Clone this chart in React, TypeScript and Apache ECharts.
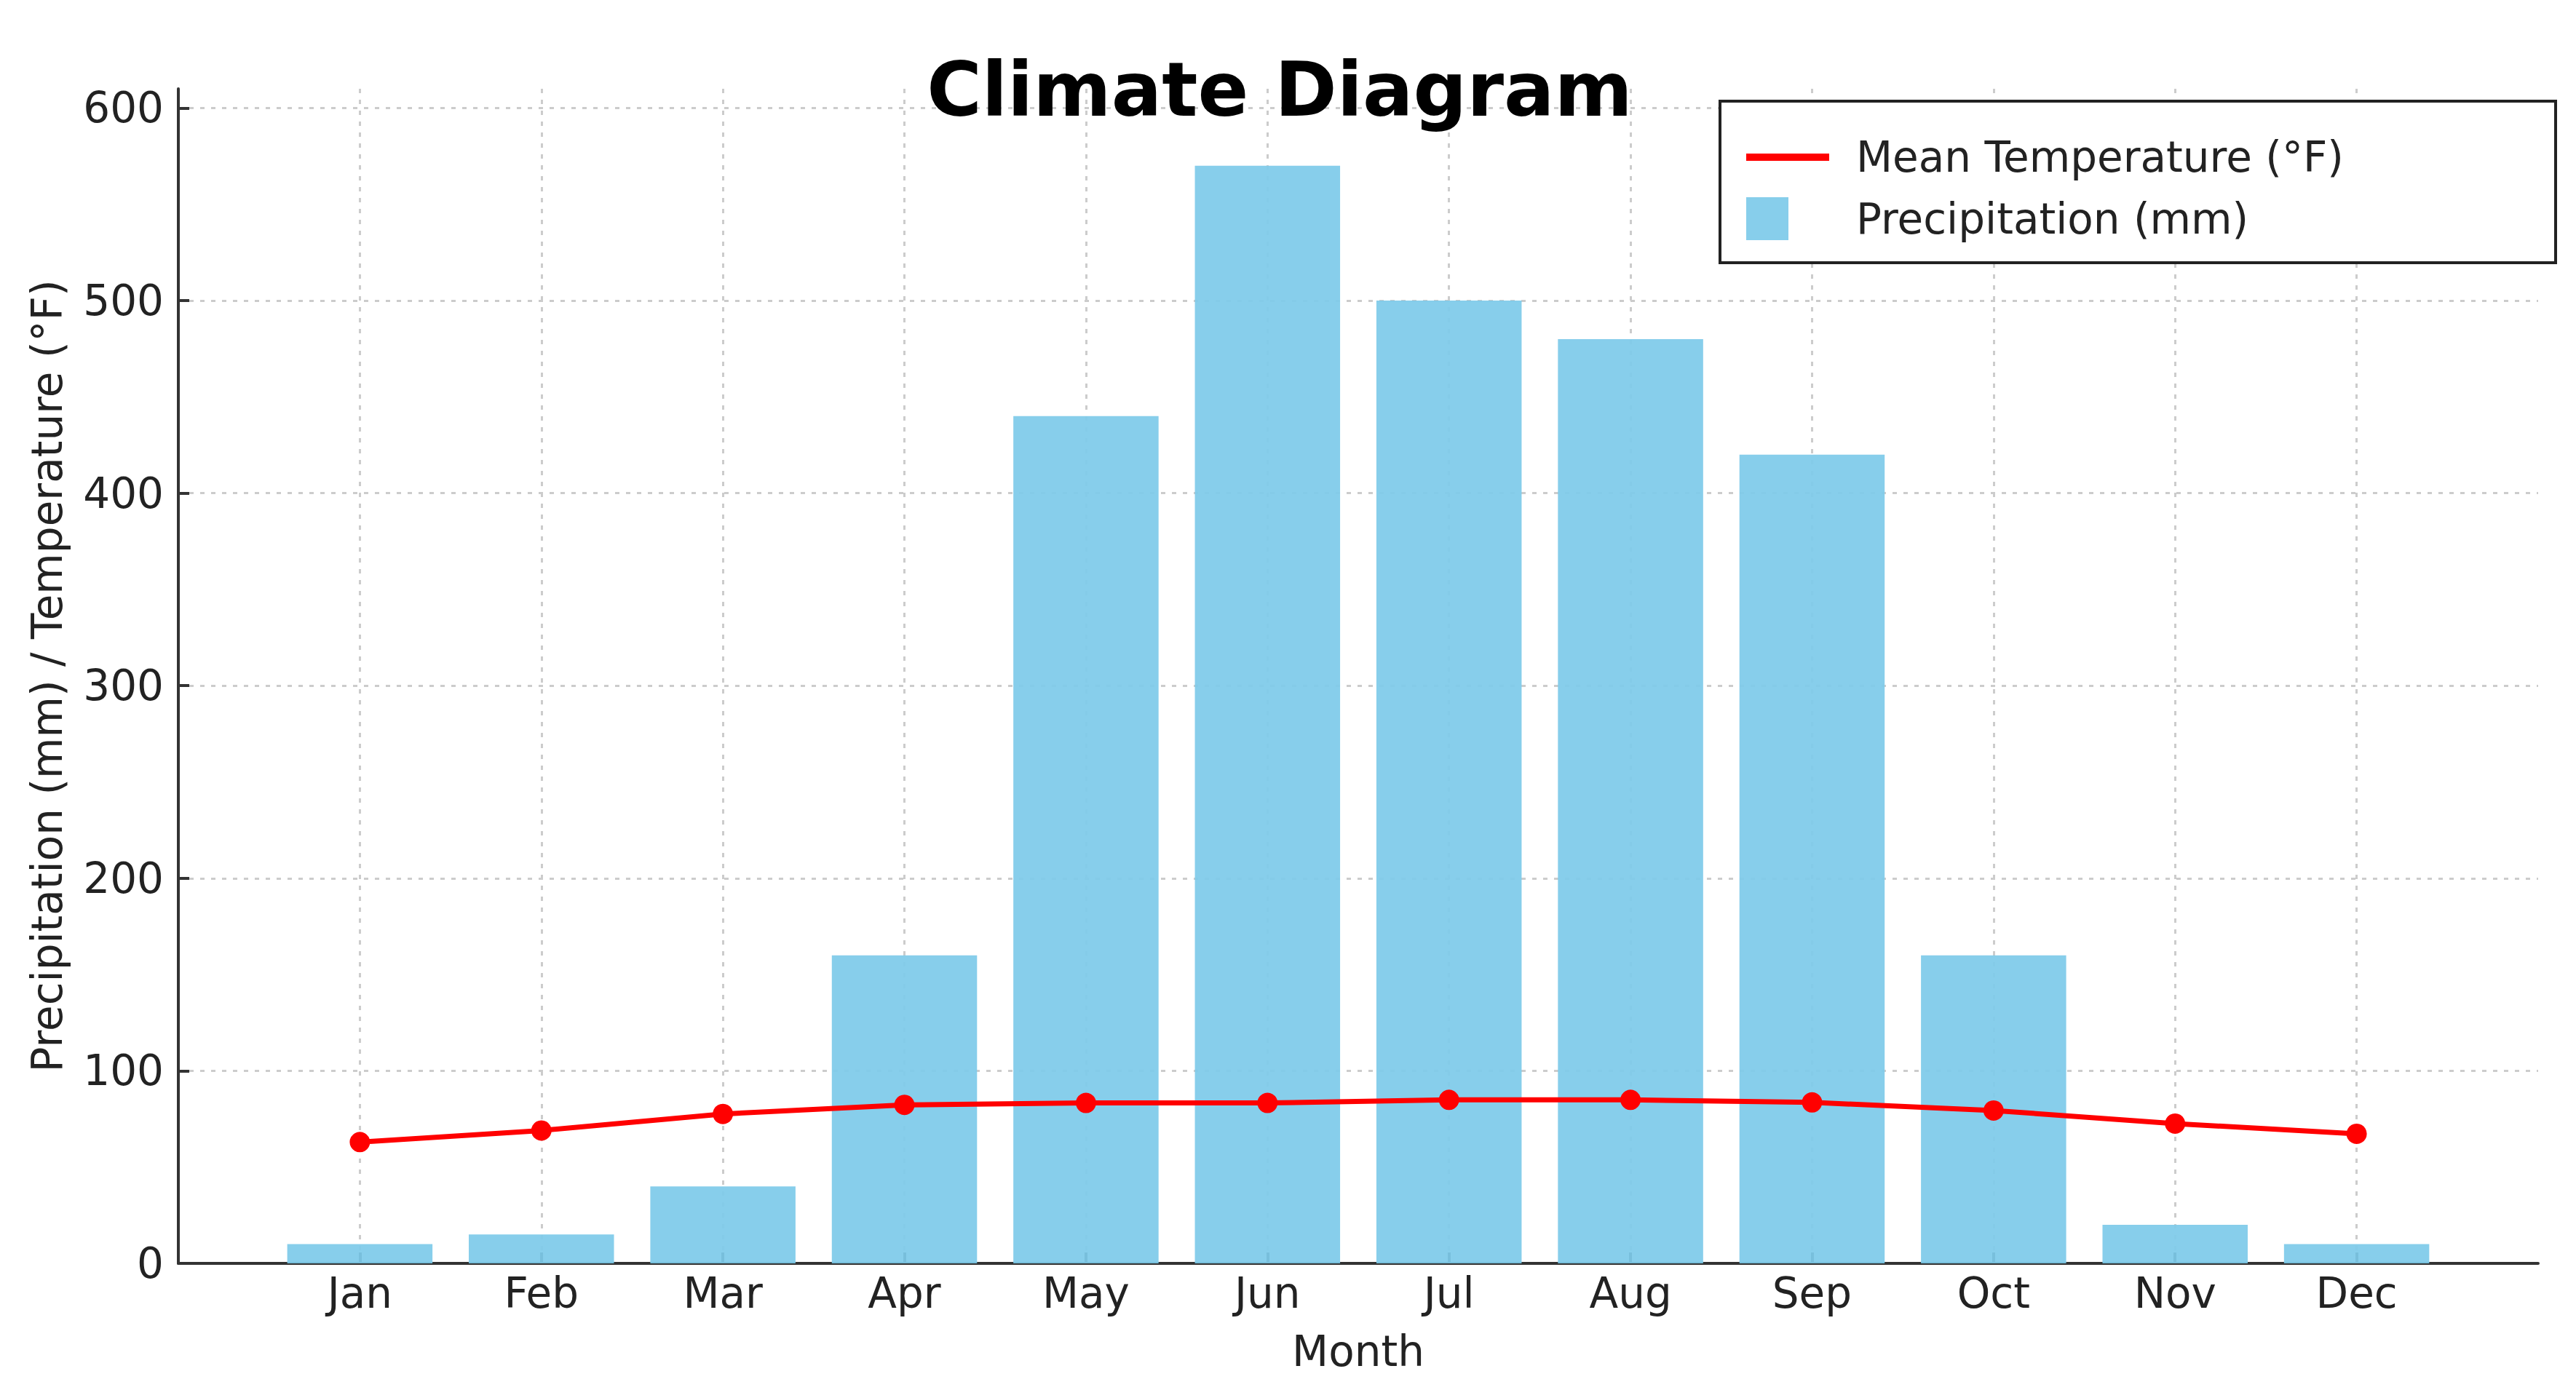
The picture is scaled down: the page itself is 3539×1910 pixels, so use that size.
import React, { useEffect, useRef } from 'react';
import * as echarts from 'echarts';

const months = ['Jan', 'Feb', 'Mar', 'Apr', 'May', 'Jun', 'Jul', 'Aug', 'Sep', 'Oct', 'Nov', 'Dec'];
const precipitation = [10, 15, 40, 160, 440, 570, 500, 480, 420, 160, 20, 10];
const temperature = [63, 69, 77.6, 82.3, 83.3, 83.3, 84.9, 84.9, 83.6, 79.4, 72.6, 67.3];
const yTicks = [0, 100, 200, 300, 400, 500, 600];

const FONT = 'DejaVu Sans';
const TEXT = '#222222';
const AXIS = '#333333';
const GRID = '#cccccc';

export default function App() {
  const ref = useRef<HTMLDivElement>(null);

  useEffect(() => {
    const chart = echarts.init(ref.current!, null, { renderer: 'svg' });
    const categories = [' ', ...months, '  '];
    const lastIdx = categories.length - 1;
    const inner = (i: number) => i > 0 && i < lastIdx;

    chart.setOption({
      animation: false,
      backgroundColor: '#ffffff',
      title: {
        text: 'Climate Diagram',
        left: 1758,
        top: 71,
        textAlign: 'center',
        padding: 0,
        textStyle: { fontSize: 103, fontWeight: 'bold', fontFamily: FONT, color: '#000000' },
      },
      grid: { left: 245, right: 52, top: 122, bottom: 174, containLabel: false, outerBoundsMode: 'none' },
      legend: [
        {
          data: [{ name: 'Mean Temperature (°F)', icon: 'rect' }],
          left: 2399,
          top: 187,
          padding: 0,
          itemWidth: 114,
          itemHeight: 10,
          selectedMode: false,
          itemStyle: { borderWidth: 0 },
          textStyle: { fontSize: 58, fontFamily: FONT, color: TEXT, padding: [0, 0, 0, 32] },
          z: 110,
        },
        {
          data: [{ name: 'Precipitation (mm)', icon: 'rect' }],
          left: 2399,
          top: 271,
          padding: 0,
          itemWidth: 58,
          itemHeight: 59,
          selectedMode: false,
          itemStyle: { borderWidth: 0 },
          textStyle: { fontSize: 58, fontFamily: FONT, color: TEXT, padding: [0, 0, 0, 88] },
          z: 110,
        },
      ],
      graphic: [
        {
          type: 'rect',
          z: 100,
          shape: { x: 2363, y: 139, width: 1148, height: 222 },
          style: { fill: '#ffffff', stroke: '#222222', lineWidth: 4 },
        },
      ],
      xAxis: {
        type: 'category',
        data: categories,
        boundaryGap: false,
        name: 'Month',
        nameLocation: 'middle',
        nameGap: 92,
        nameTextStyle: { fontSize: 58, fontFamily: FONT, color: TEXT },
        axisLine: { show: true, lineStyle: { color: AXIS, width: 4 } },
        axisTick: {
          show: true,
          inside: true,
          length: 15,
          interval: (i: number) => inner(i),
          lineStyle: { color: AXIS, width: 4 },
        },
        axisLabel: {
          fontSize: 58,
          fontFamily: FONT,
          color: TEXT,
          margin: 12,
          interval: 0,
        },
        splitLine: {
          show: true,
          interval: (i: number) => inner(i),
          lineStyle: { color: GRID, width: 3, type: [6, 9] },
        },
      },
      yAxis: {
        type: 'value',
        min: 0,
        max: 610,
        interval: 100,
        name: 'Precipitation (mm) / Temperature (°F)',
        nameLocation: 'middle',
        nameGap: 151,
        nameRotate: 90,
        nameTextStyle: { fontSize: 58, fontFamily: FONT, color: TEXT },
        axisLine: { show: true, lineStyle: { color: AXIS, width: 4 } },
        axisTick: { show: true, inside: true, length: 15, customValues: yTicks, lineStyle: { color: AXIS, width: 4 } },
        axisLabel: {
          fontSize: 58,
          fontFamily: FONT,
          color: TEXT,
          margin: 20,
          customValues: yTicks,
        },
        splitLine: {
          show: true,
          showMinLine: false,
          lineStyle: { color: GRID, width: 3, type: [6, 9] },
        },
      },
      series: [
        {
          name: 'Precipitation (mm)',
          type: 'bar',
          barWidth: '80%',
          z: 2,
          itemStyle: { color: 'rgb(126,202,234)', opacity: 0.93 },
          data: precipitation.map((v, i) => [i + 1, v]),
        },
        {
          name: 'Mean Temperature (°F)',
          type: 'line',
          z: 3,
          symbol: 'circle',
          symbolSize: 28,
          lineStyle: { color: '#ff0000', width: 7 },
          itemStyle: { color: '#ff0000', borderWidth: 0 },
          data: temperature.map((v, i) => [i + 1, v]),
        },
      ],
    });

    return () => chart.dispose();
  }, []);

  return (
    <div
      ref={ref}
      style={{ position: 'absolute', left: 0, top: 0, width: 3539, height: 1910 }}
    />
  );
}
